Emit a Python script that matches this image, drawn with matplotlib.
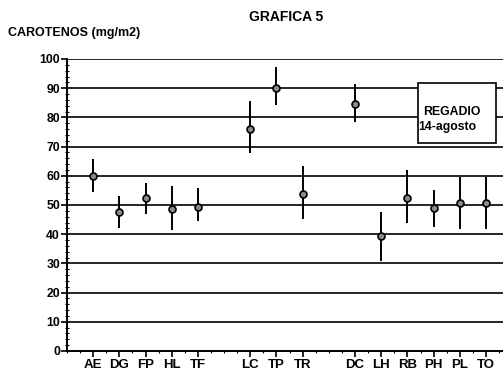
import numpy as np
import matplotlib.pyplot as plt
from matplotlib.patches import Rectangle
from matplotlib.ticker import MultipleLocator

plt.rcParams['font.family'] = ['Liberation Sans', 'DejaVu Sans']

# %% data
labels = ['AE', 'DG', 'FP', 'HL', 'TF', 'LC', 'TP', 'TR',
          'DC', 'LH', 'RB', 'PH', 'PL', 'TO']
positions = [1, 2, 3, 4, 5, 7, 8, 9, 11, 12, 13, 14, 15, 16]
means = [60.0, 47.7, 52.3, 48.6, 49.4, 76.1, 90.0, 53.6,
         84.6, 39.5, 52.3, 48.9, 50.6, 50.8]
upper = [65.8, 53.2, 57.7, 56.6, 55.7, 85.6, 97.3, 63.4,
         91.6, 47.7, 62.0, 55.1, 59.5, 59.7]
lower = [54.5, 42.2, 46.8, 41.3, 44.5, 67.7, 84.2, 45.1,
         78.5, 30.9, 44.0, 42.6, 41.7, 41.7]

means = np.array(means)
yerr = [means - np.array(lower), np.array(upper) - means]

# %% plot
fig = plt.figure(figsize=(5.03, 3.76), dpi=100)
ax = fig.add_axes([0.1332, 0.0665, 0.8668, 0.7766])

for v in range(10, 101, 10):
    ax.axhline(v, color='black', lw=1.2, zorder=1)

ax.errorbar(positions, means, yerr=yerr, fmt='o', color='black', ecolor='black',
            elinewidth=1.4, capsize=0, markersize=5, markerfacecolor='#8a8a8a',
            markeredgecolor='black', markeredgewidth=1.2, zorder=3)

ax.add_patch(Rectangle((13.4, 71.2), 2.98, 20.6, facecolor='white', edgecolor='black',
                       lw=1.2, zorder=4))
ax.text(13.6, 81.8, 'REGADIO', fontsize=8.8, fontweight='bold', ha='left', va='center', zorder=5)
ax.text(13.42, 76.6, '14-agosto', fontsize=8.8, fontweight='bold', ha='left', va='center', zorder=5)

ax.set_xlim(0, 16.65)
ax.set_ylim(0, 100)
ax.set_xticks(positions)
ax.set_xticklabels(labels, fontsize=9.5, fontweight='bold')
ax.set_yticks(range(0, 101, 10))
ax.set_yticklabels([str(v) for v in range(0, 101, 10)], fontsize=8.8, fontweight='bold')
ax.yaxis.set_minor_locator(MultipleLocator(2))
ax.xaxis.set_minor_locator(MultipleLocator(0.5))
ax.tick_params(axis='y', which='major', direction='out', length=4, width=1.2, pad=1)
ax.tick_params(axis='y', which='minor', direction='inout', length=3, width=0.8)
ax.tick_params(axis='x', which='major', direction='out', length=4, width=1.2, pad=2)
ax.tick_params(axis='x', which='minor', direction='out', length=1.5, width=0.8)
for s in ['top', 'right']:
    ax.spines[s].set_visible(False)
ax.spines['left'].set_linewidth(1.4)
ax.spines['bottom'].set_linewidth(1.4)

fig.text(0.569, 0.955, 'GRAFICA 5', fontsize=10, fontweight='bold', ha='center', va='center')
fig.text(0.016, 0.912, 'CAROTENOS (mg/m2)', fontsize=9, fontweight='bold', ha='left', va='center')

plt.savefig('out.png', dpi=100)
